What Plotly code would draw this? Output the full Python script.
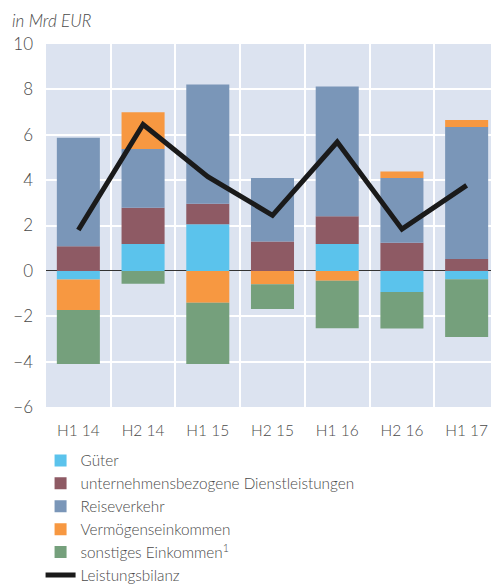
import plotly.graph_objects as go

categories = ["H1 14", "H2 14", "H1 15", "H2 15", "H1 16", "H2 16", "H1 17"]
gueter = [-0.38, 1.18, 2.05, 0.0, 1.19, -0.93, -0.37]
dienstleistungen = [1.09, 1.60, 0.91, 1.30, 1.22, 1.24, 0.52]
reiseverkehr = [4.78, 2.59, 5.26, 2.79, 5.72, 2.85, 5.82]
vermoegen = [-1.34, 1.62, -1.41, -0.59, -0.44, 0.29, 0.31]
sonstiges = [-2.38, -0.57, -2.69, -1.09, -2.09, -1.61, -2.54]
leistungsbilanz = [1.80, 6.45, 4.15, 2.45, 5.68, 1.84, 3.77]
y_ticks = [-6, -4, -2, 0, 2, 4, 6, 8, 10]

xpos = list(range(len(categories)))
font_family = "Lato"
text_col = "#4a4a4a"

fig = go.Figure()
series = [
    ("Güter", gueter, "#5BC3EC"),
    ("unternehmensbezogene Dienstleistungen", dienstleistungen, "#8E5A64"),
    ("Reiseverkehr", reiseverkehr, "#7A96B8"),
    ("Vermögenseinkommen", vermoegen, "#F79841"),
    ("sonstiges Einkommen<sup>1</sup>", sonstiges, "#75A07C"),
]
for name, vals, col in series:
    fig.add_trace(go.Bar(x=xpos, y=vals, name=name, marker=dict(color=col, line=dict(width=0)),
                         width=0.665))
fig.add_trace(go.Scatter(x=xpos, y=leistungsbilanz, name="Leistungsbilanz", mode="lines",
                         line=dict(color="#1a1a1a", width=5)))

# page body has an 8px margin, so the figure is offset by 8px
fig.update_layout(
    width=491, height=576,
    margin=dict(l=38, r=0, t=36, b=177, autoexpand=False),
    barmode="relative",
    plot_bgcolor="#DCE3F0",
    paper_bgcolor="white",
    font=dict(family=font_family, color=text_col, size=15, weight=300),
    showlegend=True,
    legend=dict(x=-0.012, y=-0.102, xanchor="left", yanchor="top", traceorder="normal",
                font=dict(size=15.3, color=text_col, weight=300), itemwidth=30, tracegroupgap=0,
                bgcolor="rgba(0,0,0,0)"),
    annotations=[dict(text="<i>in Mrd EUR</i>", xref="paper", yref="paper", x=-0.08, y=1.03,
                      xanchor="left", yanchor="bottom", showarrow=False,
                      font=dict(size=17, color=text_col, family=font_family, weight=300))],
)
fig.update_xaxes(range=[-0.5, 6.5], tickvals=xpos, ticktext=categories, showgrid=False,
                 zeroline=False, ticks="", tickfont=dict(size=15.5, color=text_col, weight=300),
                 automargin=False, ticklabelstandoff=12,
                 minor=dict(tickvals=[0.5, 1.5, 2.5, 3.5, 4.5, 5.5], showgrid=True,
                            gridcolor="white", gridwidth=2, ticks=""))
fig.update_yaxes(range=[-6, 10], tickvals=y_ticks, showgrid=True, gridcolor="white", gridwidth=2,
                 zeroline=True, zerolinecolor="#333333", zerolinewidth=1.2, automargin=False,
                 tickfont=dict(size=17, color=text_col, weight=300), ticks="", ticklabelstandoff=12)

fig.write_html("out.html")
